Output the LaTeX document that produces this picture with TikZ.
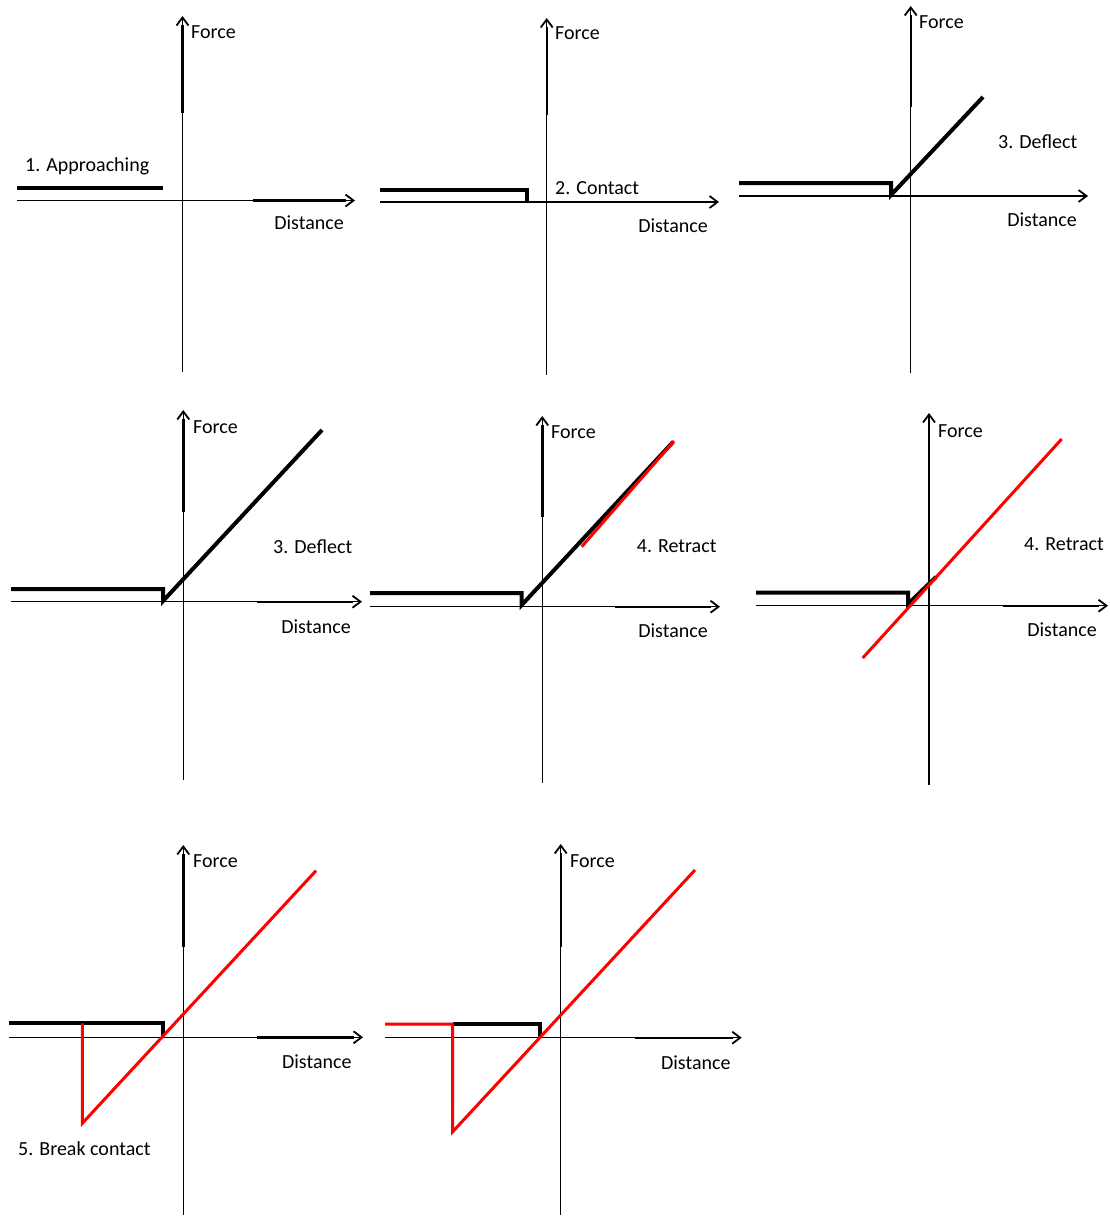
\documentclass[tikz,border=0pt]{standalone}
\usepackage{fontspec}
\setmainfont{Carlito}
\usetikzlibrary{arrows.meta}
\tikzset{
  axis/.style={line width=1.4pt, -{Straight Barb[length=8pt,width=12pt,line width=1.8pt]}},
  axisbold/.style={line width=2.4pt},
  curve/.style={line width=4pt, line join=miter},
  rcurve/.style={line width=3pt, color=red, line join=miter},
  lbl/.style={font=\fontsize{20}{24}\selectfont, inner sep=0pt},
}
% #1 name, #2 x of y-axis, #3 top y, #4 bottom y, #5 end of bold top part,
% #6 y of x-axis, #7 left x, #8 right x, #9 start of bold right part
\newcommand\myaxes[9]{%
  \coordinate (#1t) at (#2,#3);
  \coordinate (#1b) at (#2,#4);
  \coordinate (#1tb) at (#2,{#3+9});
  \coordinate (#1m) at (#2,#5);
  \coordinate (#1l) at (#7,#6);
  \coordinate (#1r) at (#8,#6);
  \coordinate (#1rb) at ({#8-9},#6);
  \coordinate (#1k) at (#9,#6);
  \draw[axis] (#1b) -- (#1t);
  \draw[axisbold] (#1tb) -- (#1m);
  \draw[axis] (#1l) -- (#1r);
  \draw[axisbold] (#1k) -- (#1rb);
}
\begin{document}
\begin{tikzpicture}[x=1pt,y=-1pt]
\useasboundingbox (0,0) rectangle (1109,1216);
\fill[white] (0,0) rectangle (1109,1216);

% Panel 1
\myaxes{a}{182.5}{16}{372}{113}{200.5}{17}{355}{253}
\coordinate (a1) at (17,188); \coordinate (a2) at (163,188);
\draw[curve] (a1) -- (a2);
\node[lbl, anchor=west] (aF) at (191,32) {Force};
\node[lbl, anchor=west] (aS) at (25,166) {1. Approaching};
\node[lbl, anchor=east] (aD) at (344,223) {Distance};

% Panel 2
\myaxes{b}{546.7}{18}{375}{115}{202}{380}{719}{617}
\coordinate (b1) at (380,190); \coordinate (b2) at (527,190); \coordinate (b3) at (527,202);
\draw[curve] (b1) -- (b2) -- (b3);
\node[lbl, anchor=west] (bF) at (555,33) {Force};
\node[lbl, anchor=west] (bS) at (555,188) {2. Contact};
\node[lbl, anchor=east] (bD) at (708,226) {Distance};

% Panel 3
\myaxes{c}{910.7}{6}{373}{107}{196}{739}{1088}{983}
\coordinate (c1) at (739,183); \coordinate (c2) at (891,183); \coordinate (c3) at (891,195); \coordinate (c4) at (983,97);
\draw[curve] (c1) -- (c2) -- (c3) -- (c4);
\node[lbl, anchor=west] (cF) at (919,22) {Force};
\node[lbl, anchor=west] (cS) at (998,142) {3. Deflect};
\node[lbl, anchor=east] (cD) at (1077,220) {Distance};

% Panel 4
\myaxes{d}{183.3}{410}{780}{512}{601.7}{11}{362}{257}
\coordinate (d1) at (11,589); \coordinate (d2) at (163,589); \coordinate (d3) at (163,601); \coordinate (d4) at (322,430);
\draw[curve] (d1) -- (d2) -- (d3) -- (d4);
\node[lbl, anchor=west] (dF) at (193,427) {Force};
\node[lbl, anchor=west] (dS) at (273,547) {3. Deflect};
\node[lbl, anchor=east] (dD) at (351,627) {Distance};

% Panel 5
\myaxes{e}{542.3}{416}{783}{517}{606.7}{370}{720}{615}
\coordinate (e1) at (370,593); \coordinate (e2) at (521.7,593); \coordinate (e3) at (521.7,605); \coordinate (e4) at (673,442);
\draw[curve] (e1) -- (e2) -- (e3) -- (e4);
\coordinate (er1) at (581.7,546.7); \coordinate (er2) at (674,441);
\draw[rcurve] (er1) -- (er2);
\node[lbl, anchor=west] (eF) at (551,432) {Force};
\node[lbl, anchor=west] (eS) at (636.7,545.7) {4. Retract};
\node[lbl, anchor=east] (eD) at (708,630.7) {Distance};

% Panel 6
\myaxes{f}{929}{413}{785}{515}{605.7}{756}{1108}{1003}
\coordinate (f1) at (756,592.7); \coordinate (f2) at (908,592.7); \coordinate (f3) at (908,604); \coordinate (f4) at (936,577);
\draw[curve] (f1) -- (f2) -- (f3) -- (f4);
\coordinate (fr1) at (862.7,658); \coordinate (fr2) at (1061.7,439);
\draw[rcurve] (fr1) -- (fr2);
\node[lbl, anchor=west] (fF) at (938,430.7) {Force};
\node[lbl, anchor=west] (fS) at (1024,544) {4. Retract};
\node[lbl, anchor=east] (fD) at (1097,630) {Distance};

% Panel 7
\myaxes{g}{183.3}{845}{1215}{946.7}{1037.3}{9}{363}{257}
\coordinate (g1) at (9,1023.3); \coordinate (g2) at (163,1023.3); \coordinate (g3) at (163,1036);
\draw[curve] (g1) -- (g2) -- (g3);
\coordinate (gr1) at (82.3,1023.3); \coordinate (gr2) at (82.3,1123.3); \coordinate (gr3) at (316,870.7);
\draw[rcurve] (gr1) -- (gr2) -- (gr3);
\node[lbl, anchor=west] (gF) at (193,861) {Force};
\node[lbl, anchor=west] (gS) at (18,1149) {5. Break contact};
\node[lbl, anchor=east] (gD) at (351.7,1061.7) {Distance};

% Panel 8
\myaxes{h}{560.7}{844}{1215}{946.7}{1037.7}{385}{741.7}{635}
\coordinate (h1) at (452.7,1024); \coordinate (h2) at (540,1024); \coordinate (h3) at (540,1036.5);
\draw[curve] (h1) -- (h2) -- (h3);
\coordinate (hr0) at (385,1024); \coordinate (hr1) at (452.7,1024); \coordinate (hr2) at (452.7,1131.7); \coordinate (hr3) at (695,870);
\draw[rcurve] (hr0) -- (hr1) -- (hr2) -- (hr3);
\node[lbl, anchor=west] (hF) at (570,860.7) {Force};
\node[lbl, anchor=east] (hD) at (730.7,1062.3) {Distance};
\end{tikzpicture}
\end{document}
